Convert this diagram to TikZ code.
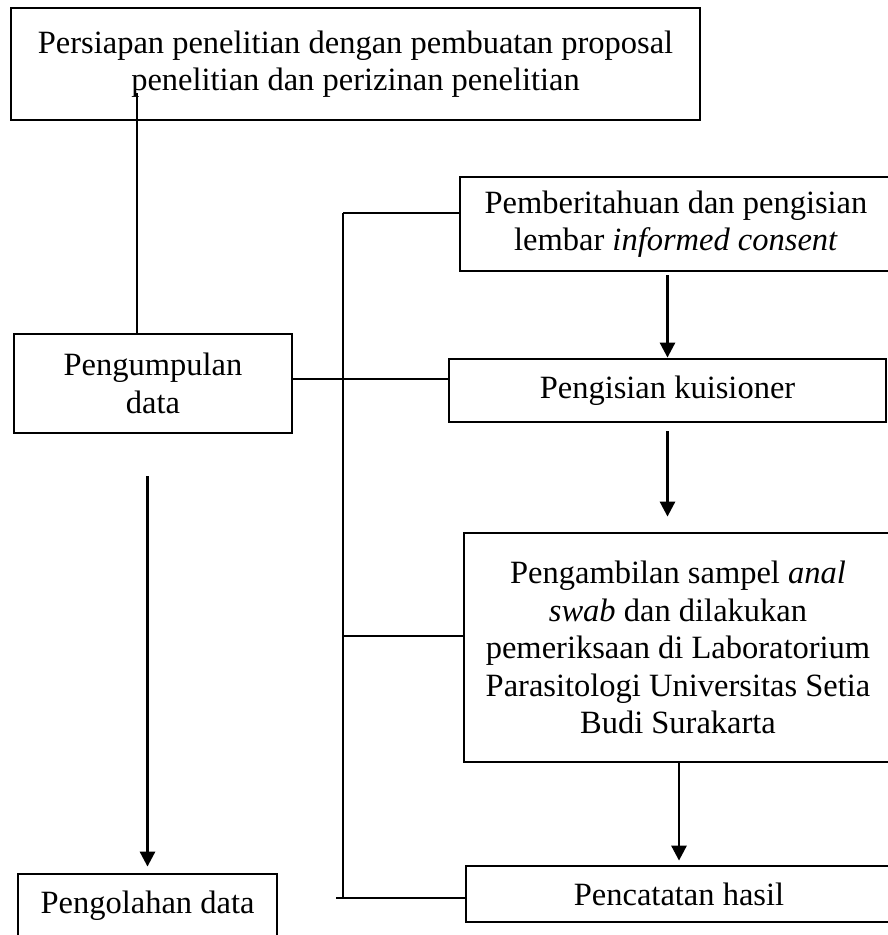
\documentclass[tikz,border=0pt]{standalone}
\usepackage{fontspec}
\setmainfont{Liberation Serif}
\usetikzlibrary{arrows.meta}
\begin{document}
\begin{tikzpicture}[x=0.5pt,y=-0.5pt,
    kotak/.style={draw,line width=1.4pt,align=center,inner sep=0pt,font=\fontsize{16.25}{18.8}\selectfont},
    garis/.style={line width=0.75pt},
    panah/.style={-{Triangle[width=7.5pt,length=7.5pt]},line width=1.4pt}]
        \useasboundingbox (0,0) rectangle (887,935);

        % Kotak kiri
        \node[kotak,minimum width=344.5pt,minimum height=56pt] (siap) at (355.5,64) {Persiapan penelitian dengan pembuatan proposal\\penelitian dan perizinan penelitian};
        \node[kotak,minimum width=139pt,minimum height=49.5pt] (kumpul) at (153,383.5) {Pengumpulan\\data};
        \node[kotak,anchor=base,text height=19.5pt,text depth=16pt,minimum width=129.5pt] (olah) at (147.5,913) {Pengolahan data};

        % Kotak kanan
        \node[kotak,minimum width=216pt,minimum height=47pt] (beritahu) at (676,224) {Pemberitahuan dan pengisian\\lembar \textit{informed consent}};
        \node[kotak,minimum width=218.5pt,minimum height=31.5pt] (kuis) at (667.5,390.5) {Pengisian kuisioner};
        \node[kotak,minimum width=214pt,minimum height=114.5pt] (sampel) at (678,647.5) {Pengambilan sampel \textit{anal}\\\textit{swab} dan dilakukan\\pemeriksaan di Laboratorium\\Parasitologi Universitas Setia\\Budi Surakarta};
        \node[kotak,minimum width=213pt,minimum height=28pt] (catat) at (679,894) {Pencatatan hasil};

        % Garis penghubung
        \coordinate (t1) at (137,93);
        \draw[line width=1.1pt] (t1) -- (t1 |- kumpul.north);
        \coordinate (jk) at (343,379);
        \draw[garis] (kumpul.east |- jk) -- (kuis.west |- jk);
        \coordinate (b1) at (343,213);
        \coordinate (b2) at (343,636);
        \coordinate (b3) at (343,898);
        \coordinate (b4) at (336,898);
        \draw[garis] (b1) -- (b3);
        \draw[garis] (b1) -- (beritahu.west |- b1);
        \draw[garis] (b2) -- (sampel.west |- b2);
        \draw[garis] (b4) -- (catat.west |- b4);

        % Panah
        \draw[panah] ([yshift=-1.5pt]beritahu.south -| kuis.north) -- (kuis.north);
        \draw[panah] ([yshift=-4pt]kuis.south) -- ([yshift=7.5pt]sampel.north -| kuis.south);
        \draw[panah] (sampel.south -| catat.north) -- ([yshift=2pt]catat.north);
        \draw[panah] ([yshift=-21pt]kumpul.south -| olah.north) -- ([yshift=3pt]olah.north);
    \end{tikzpicture}
\end{document}
